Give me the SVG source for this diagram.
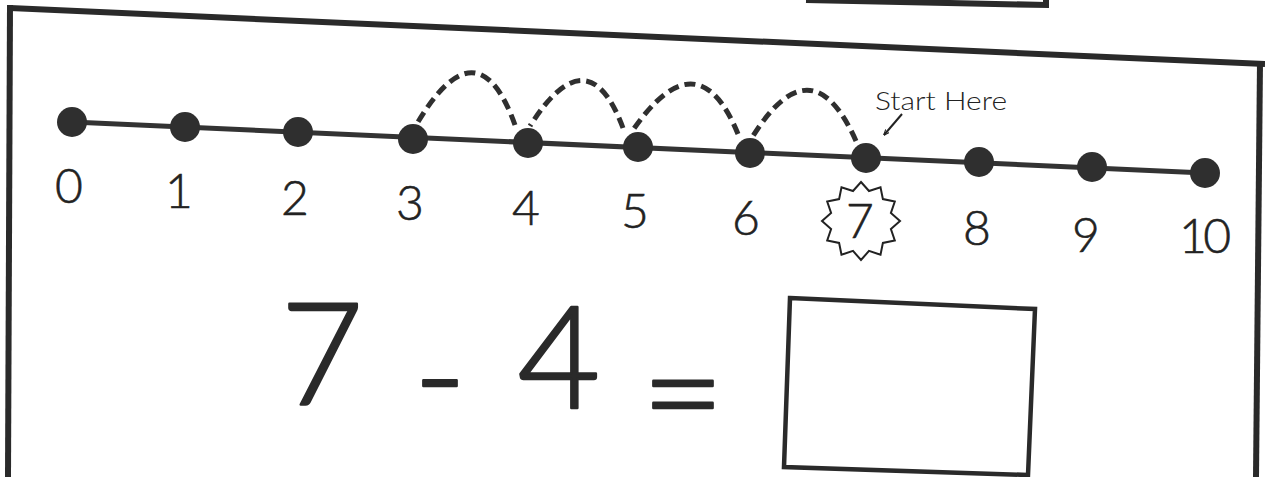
<svg xmlns="http://www.w3.org/2000/svg" width="1265" height="477" viewBox="0 0 1265 477">
  <style>
    .border { stroke: #2a2a2a; stroke-width: 6; fill: none; stroke-linecap: butt; }
    .axis { stroke: #333; stroke-width: 5; fill: none; }
    .dot { fill: #2f2f2f; }
    .num { font-family: Lato, "Open Sans", "Liberation Sans", sans-serif; font-weight: 300; font-size: 48px; fill: #222; stroke: #222; stroke-width: 0.6; text-anchor: middle; }
    .eq { font-family: Lato, "Open Sans", "Liberation Sans", sans-serif; font-weight: 300; font-size: 143px; fill: #2a2a2a; stroke: #2a2a2a; stroke-width: 2.5; stroke-linejoin: round; text-anchor: middle; }
    .hop { stroke: #2f2f2f; stroke-width: 5; fill: none; stroke-dasharray: 11 6; }
    .label { font-family: Lato, "Open Sans", "Liberation Sans", sans-serif; font-weight: 300; font-size: 26px; fill: #222; }
    .thin { stroke: #222; stroke-width: 2; fill: none; }
    .answer { stroke: #2a2a2a; stroke-width: 4.5; fill: #fff; }
  </style>
  <defs>
    <marker id="arrow" viewBox="0 0 10 10" refX="9" refY="5" markerWidth="6" markerHeight="6" orient="auto" markerUnits="userSpaceOnUse">
      <path d="M0,1 L10,5 L0,9" fill="none" stroke="#222" stroke-width="1.8"/>
    </marker>
  </defs>
  <rect width="1265" height="477" fill="#fff"/>

  <g id="frame">
    <line class="border" x1="10" y1="8" x2="1265" y2="64"/>
    <line class="border" x1="10" y1="5" x2="8" y2="477"/>
    <line class="border" x1="1260" y1="62" x2="1256" y2="477"/>
    <polyline class="border" points="806,0 1046,5 1046,-5"/>
  </g>

  <g id="axis">
    <line class="axis" x1="72" y1="122" x2="1205" y2="173"/>
  </g>

  <g id="connectors">
    <path class="hop" d="M856,141 Q812,42 753,136"/>
    <path class="hop" d="M738,134 Q698,36 633,130"/>
    <path class="hop" d="M623,128 Q588,34 530,126"/>
    <path class="hop" d="M515,125 Q478,22 418,122"/>
    <line class="thin" x1="902" y1="114" x2="884" y2="135" marker-end="url(#arrow)"/>
  </g>

  <g id="node-0"><circle class="dot" cx="72" cy="122" r="15"/><text class="num" x="69" y="203">0</text></g>
  <g id="node-1"><circle class="dot" cx="185" cy="127" r="15"/><text class="num" x="179" y="208">1</text></g>
  <g id="node-2"><circle class="dot" cx="298" cy="132" r="15"/><text class="num" x="295" y="215">2</text></g>
  <g id="node-3"><circle class="dot" cx="413" cy="139" r="15"/><text class="num" x="410" y="220">3</text></g>
  <g id="node-4"><circle class="dot" cx="528" cy="143" r="15"/><text class="num" x="526" y="225">4</text></g>
  <g id="node-5"><circle class="dot" cx="638" cy="147" r="15"/><text class="num" x="635" y="228">5</text></g>
  <g id="node-6"><circle class="dot" cx="750" cy="153" r="15"/><text class="num" x="746" y="235">6</text></g>
  <g id="node-7">
    <circle class="dot" cx="866" cy="158" r="15"/>
    <polygon class="thin" points="861,182 869,191 880.5,187.2 882.9,199.1 894.8,201.5 890.9,213 900,221 890.9,229 894.8,240.5 882.9,242.9 880.5,254.8 869,250.9 861,260 853,250.9 841.5,254.8 839.1,242.9 827.2,240.5 831.1,229 822,221 831.1,213 827.2,201.5 839.1,199.1 841.5,187.2 853,191"/>
    <text class="num" x="860" y="238">7</text>
  </g>
  <g id="node-8"><circle class="dot" cx="979" cy="162" r="15"/><text class="num" x="977" y="245">8</text></g>
  <g id="node-9"><circle class="dot" cx="1092" cy="167" r="15"/><text class="num" x="1086" y="252">9</text></g>
  <g id="node-10"><circle class="dot" cx="1205" cy="173" r="15"/><text class="num" x="1205" y="253" textLength="52" lengthAdjust="spacing">10</text></g>

  <g id="start-label">
    <text class="label" x="875" y="110" textLength="132" lengthAdjust="spacingAndGlyphs">Start Here</text>
  </g>

  <g id="equation">
    <text class="eq" x="322" y="405">7</text>
    <text class="eq" x="440" y="425">-</text>
    <text class="eq" x="559" y="408">4</text>
    <text class="eq" x="683" y="442">=</text>
    <polygon class="answer" points="790,298 1035,309 1028,475 784,467"/>
  </g>
</svg>
